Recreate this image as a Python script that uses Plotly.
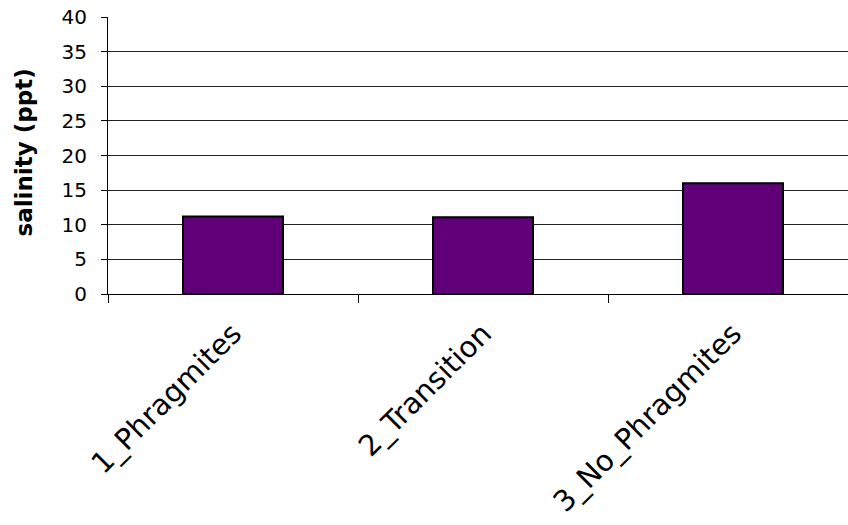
import plotly.graph_objects as go

categories = ["1_Phragmites", "2_Transition", "3_No_Phragmites"]
salinity = [11.2, 11.1, 16.0]
y_ticks = [0, 5, 10, 15, 20, 25, 30, 35, 40]

fig = go.Figure(go.Bar(
    x=categories, y=salinity, width=0.4,
    marker=dict(color="#5f0079", line=dict(color="black", width=2)),
))

fig.update_layout(
    width=848, height=525,
    margin=dict(l=108, r=0, t=17, b=231),
    paper_bgcolor="white", plot_bgcolor="white",
    font=dict(family="DejaVu Sans", color="black"),
    showlegend=False,
    annotations=[dict(
        text="<b>salinity (ppt)</b>", x=0, y=0.5, xref="paper", yref="paper",
        xanchor="center", yanchor="middle", xshift=-85, yshift=3,
        textangle=-90, showarrow=False, font=dict(size=23, family="DejaVu Sans"),
    )],
)

fig.update_xaxes(
    range=[-0.5, 2.46], tickangle=-45, tickfont=dict(size=29),
    showline=True, linecolor="black", linewidth=1,
    ticks="outside", tickson="boundaries", ticklen=8, tickcolor="black",
    ticklabelstandoff=10, showgrid=False, automargin=False,
)
fig.update_yaxes(
    range=[0, 40], tickvals=y_ticks, tickfont=dict(size=20),
    showline=True, linecolor="black", linewidth=1,
    ticks="outside", ticklen=6, tickcolor="black",
    showgrid=True, gridcolor="#222222", gridwidth=1,
    zeroline=False, ticklabelstandoff=10, automargin=False,
)

fig.write_html(
    "out.html",
    config={"displayModeBar": False},
    post_script="document.body.style.margin='0';document.body.style.overflow='hidden';",
)
